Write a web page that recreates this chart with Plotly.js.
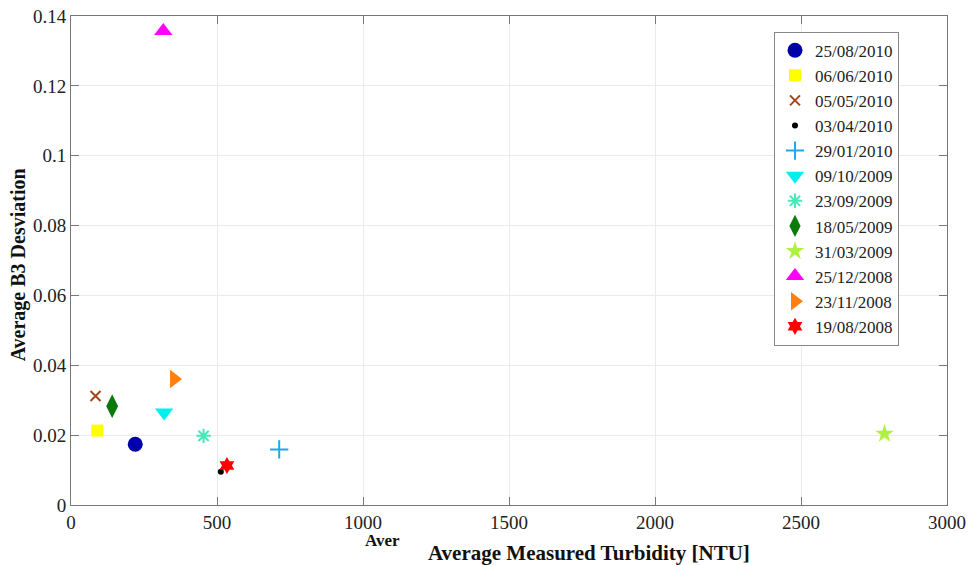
<!DOCTYPE html>
<html>
<head>
<meta charset="utf-8">
<script src="https://cdn.plot.ly/plotly-3.0.1.min.js"></script>
<style>html,body{margin:0;padding:0;background:#fff;}#chart{width:968px;height:565px;}</style>
</head>
<body>
<div id="chart"></div>
<script>
const dates = ["25/08/2010","06/06/2010","05/05/2010","03/04/2010","29/01/2010","09/10/2009","23/09/2009","18/05/2009","31/03/2009","25/12/2008","23/11/2008","19/08/2008"];
const turbidity = [220, 90, 84, 513, 713, 319, 454, 141, 2786, 316, 353, 534];
const b3Deviation = [0.0174, 0.0213, 0.0312, 0.0095, 0.0159, 0.0265, 0.0198, 0.0283, 0.0204, 0.1357, 0.0361, 0.0113];
const colors = ["#0000a8","#ffff00","#a0461e","#000000","#1ea8e8","#00f0f0","#48e8b8","#0a7a0a","#b0f040","#ff00ff","#ff8010","#ff0000"];
const symbols = ["circle","square","x-thin-open","circle","cross-thin-open","triangle-down","asterisk-open","diamond-tall","star","triangle-up","triangle-right","hexagram"];
const sizes = [15, 12, 10, 6, 13, 16, 12, 17, 14, 16, 16, 13];
const xTicks = [0, 500, 1000, 1500, 2000, 2500, 3000];
const yTicks = [0, 0.02, 0.04, 0.06, 0.08, 0.1, 0.12, 0.14];
const yTickText = ["0","0.02","0.04","0.06","0.08","0.1","0.12","0.14"];

const traces = dates.map((d, i) => ({
  x: [turbidity[i]], y: [b3Deviation[i]],
  type: "scatter", mode: "markers", name: d,
  marker: {symbol: symbols[i], size: sizes[i], color: colors[i],
           line: {color: colors[i], width: symbols[i].endsWith("open") ? 2 : 0}}
}));

const font = "Liberation Serif, Times New Roman, serif";
const layout = {
  width: 968, height: 565,
  margin: {l: 71, r: 21, t: 16, b: 60},
  paper_bgcolor: "#fff", plot_bgcolor: "#fff",
  font: {family: font, size: 19, color: "#222"},
  showlegend: true,
  legend: {x: 0.8025, y: 0.968, xanchor: "left", yanchor: "top",
           bordercolor: "#888", borderwidth: 1, bgcolor: "#fff",
           font: {family: font, size: 17, color: "#222"}},
  xaxis: {range: [0, 3000], tickvals: xTicks, ticktext: xTicks.map(String),
          showgrid: true, gridcolor: "#ebebeb", zeroline: false,
          showline: true, linecolor: "#777", linewidth: 1, mirror: "ticks",
          ticks: "inside", ticklen: 8, tickcolor: "#777", fixedrange: true},
  yaxis: {range: [0, 0.14], tickvals: yTicks, ticktext: yTickText,
          showgrid: true, gridcolor: "#ebebeb", zeroline: false,
          showline: true, linecolor: "#777", linewidth: 1, mirror: "ticks",
          ticks: "inside", ticklen: 8, tickcolor: "#777", fixedrange: true},
  annotations: [
    {text: "<b>Average Measured Turbidity [NTU]</b>", xref: "paper", yref: "paper",
     x: 0.591, y: -0.07, xanchor: "center", yanchor: "top", showarrow: false,
     font: {family: font, size: 21, color: "#111"}},
    {text: "<b>Aver</b>", xref: "paper", yref: "paper",
     x: 0.356, y: -0.05, xanchor: "center", yanchor: "top", showarrow: false,
     font: {family: font, size: 17, color: "#111"}},
    {text: "<b>Average B3 Desviation</b>", xref: "paper", yref: "paper",
     x: -0.06, y: 0.491, xanchor: "center", yanchor: "middle", textangle: -90, showarrow: false,
     font: {family: font, size: 20, color: "#111"}}
  ]
};
Plotly.newPlot("chart", traces, layout, {displayModeBar: false, staticPlot: true});
</script>
</body>
</html>
